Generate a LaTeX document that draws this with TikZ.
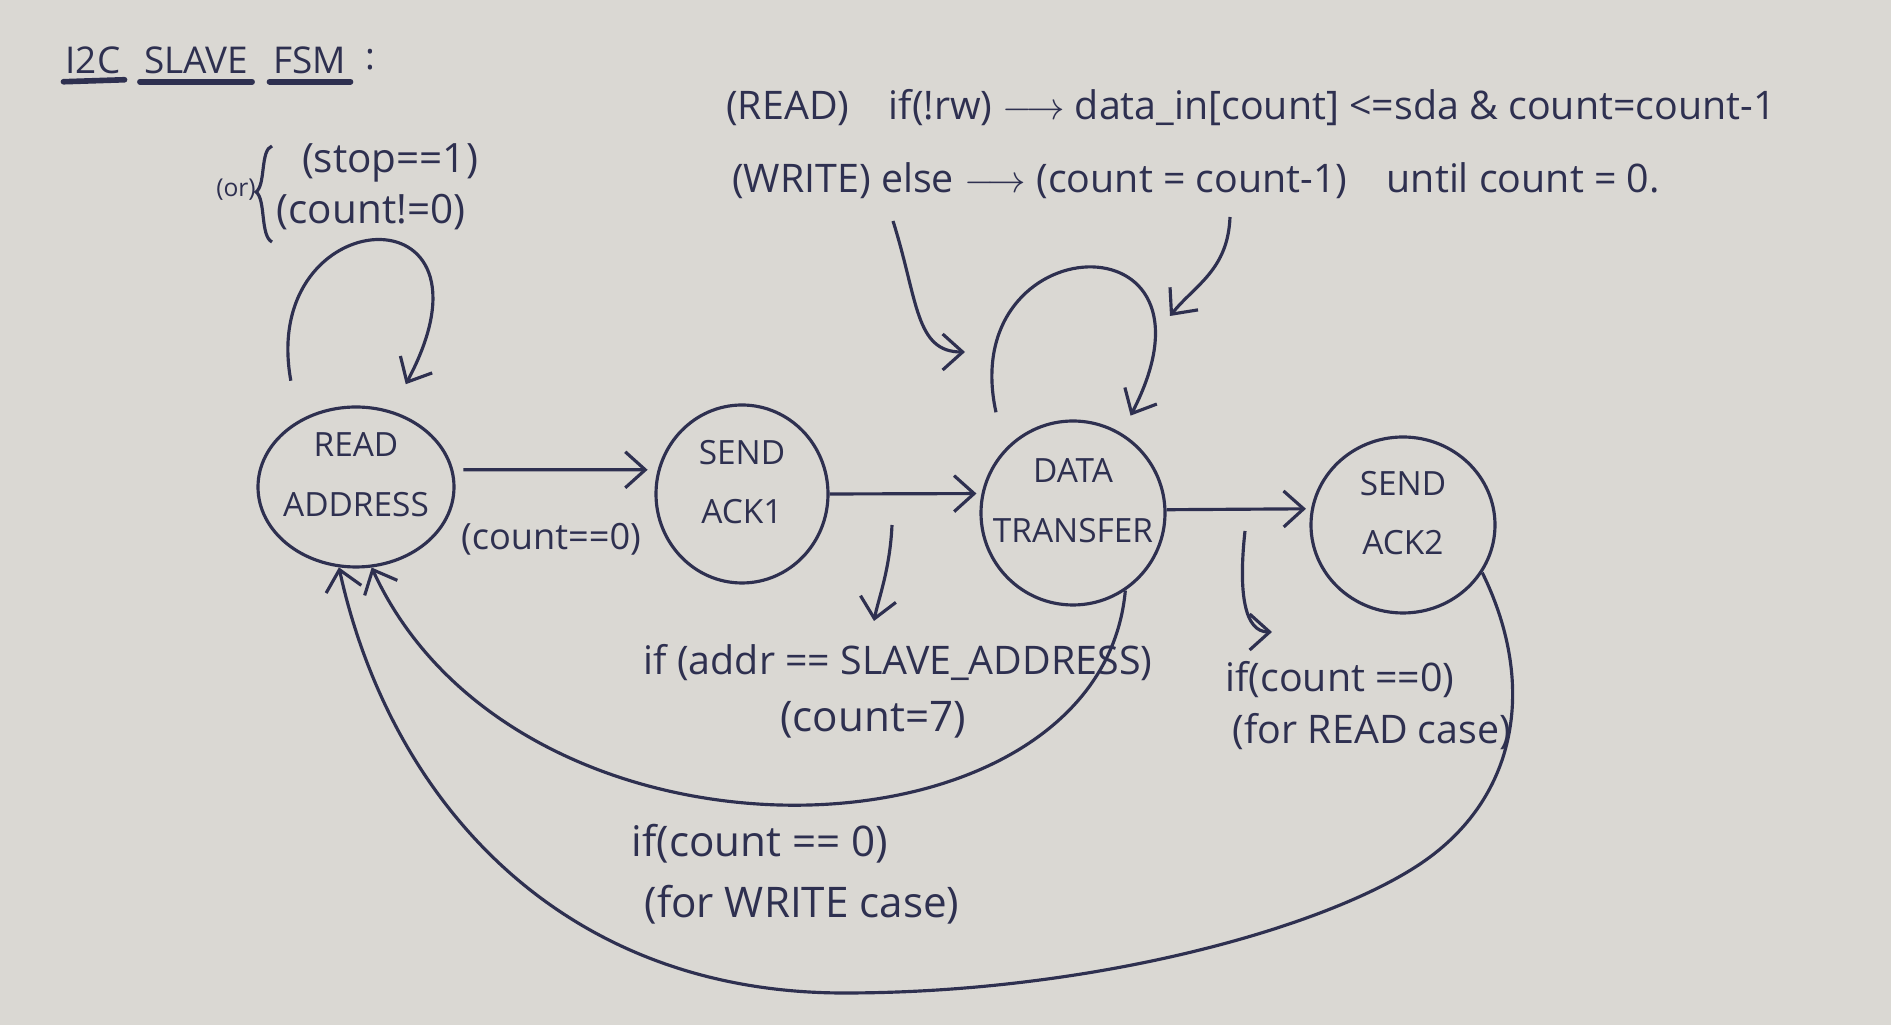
\documentclass[tikz,border=0pt]{standalone}
\usepackage{fontspec}
\setmainfont{Open Sans}
\usetikzlibrary{arrows.meta,shapes.geometric,calc}
\definecolor{ink}{HTML}{2E3050}
\definecolor{paper}{HTML}{DAD8D3}
\begin{document}
\begin{tikzpicture}[x=0.1mm,y=-0.1mm,
  inkline/.style={draw=ink, line width=0.9pt},
  arr/.style={inkline, -{Straight Barb[length=2mm,width=3.6mm]}},
  state/.style={ellipse, inkline, inner sep=0pt},
  stxt/.style={text=ink, align=center, inner sep=0pt, yshift=1.2mm, font=\fontsize{9.5}{17}\selectfont},
  lbl/.style={text=ink, inner sep=1pt, font=\fontsize{11.2}{13}\selectfont},
  ttl/.style={text=ink, inner sep=1pt, font=\fontsize{10.5}{12}\selectfont},
  uline/.style={draw=ink, line width=1.6pt, line cap=round},
]
\fill[paper] (0,0) rectangle (1891,1025);
\useasboundingbox (0,0) rectangle (1891,1025);

% title
\node[ttl] (t1) at (93,60) {I2C};
\node[ttl] (t2) at (196,60) {SLAVE};
\node[ttl] (t3) at (310,60) {FSM};
\node[ttl] (t4) at (370,60) {:};
\draw[uline] ($(t1.south west)+(2,4)$) -- ($(t1.south east)+(0,2)$);
\draw[uline] ($(t2.south west)+(0,4)$) -- ($(t2.south east)+(0,4)$);
\draw[uline] ($(t3.south west)+(0,4)$) -- ($(t3.south east)+(0,4)$);

% states
\node[state, minimum width=19.6mm, minimum height=16mm,
      label={[stxt]center:{READ\\ADDRESS}}] (ra) at (356,487) {};
\node[state, minimum width=17.2mm, minimum height=17.8mm,
      label={[stxt]center:{SEND\\ACK1}}] (sa1) at (742,494) {};
\node[state, minimum width=18.4mm, minimum height=18.4mm,
      label={[stxt]center:{DATA\\TRANSFER}}] (dt) at (1073,513) {};
\node[state, minimum width=18.4mm, minimum height=17.6mm,
      label={[stxt]center:{SEND\\ACK2}}] (sa2) at (1403,525) {};

% transitions between states
\draw[arr, shorten <=1mm, shorten >=1mm] (ra.10) -- (sa1.164);
\draw[arr, shorten >=0.5mm] (sa1.east) -- (dt.168);
\draw[arr, shorten >=0.5mm] (dt.2) -- (sa2.170);

% self loops
\draw[arr] ($(ra.119)+(-24,-32)$) .. controls (258,200) and (512,185) .. ($(ra.62)+(10,-28)$);
\draw[arr] ($(dt.126)+(-22,-25)$) .. controls (955,225) and (1236,212) .. ($(dt.58)+(8,-18)$);

% return arcs
\draw[arr] (dt.-56) .. controls (1100,870) and (520,890) .. (ra.-79);
\draw[arr] (sa2.-31) .. controls (1535,680) and (1520,790) .. (1430,857)
           .. controls (1340,924) and (1100,993) .. (844,993)
           .. controls (560,993) and (390,800) .. (ra.-102);

% loop labels
\node[text=ink, inner sep=0pt, font=\fontsize{7}{8}\selectfont] (orl) at (236,190) {(or)};
\draw[inkline] (272,146) .. controls (260,150) and (266,185) .. (256,192)
               .. controls (266,199) and (260,236) .. (272,242);
\node[lbl, font=\fontsize{11.5}{13}\selectfont] (stop) at (390,163) {(stop==1)};
\node[lbl, font=\fontsize{11.5}{13}\selectfont] (cnt) at (371,212) {(count!=0)};

% top annotations
\node[lbl, anchor=west] (rd) at (722,108) {(READ)\quad if(!rw) $\longrightarrow$ data\_in[count] <=sda \& count=count-1};
\node[lbl, anchor=west] (wr) at (728,181) {(WRITE) else $\longrightarrow$ (count = count-1)\quad until count = 0.};
\coordinate (w1s) at (893,221);
\coordinate (w1e) at (965,352);
\draw[arr] (w1s) .. controls (918,300) and (915,352) .. (w1e);
\coordinate (w2s) at (1230,217);
\coordinate (w2e) at (1170,316);
\draw[arr] (w2s) .. controls (1228,270) and (1195,285) .. (w2e);

% transition labels
\node[lbl, font=\fontsize{10.3}{12}\selectfont] (l1) at (551,539) {(count==0)};
\coordinate (c1s) at (892,525);
\coordinate (c1e) at (874,621);
\draw[arr] (c1s) .. controls (890,570) and (878,600) .. (c1e);
\node[lbl] (l2a) at (898,663) {if (addr == SLAVE\_ADDRESS)};
\node[lbl, font=\fontsize{12}{14}\selectfont] (l2b) at (873,720) {(count=7)};
\coordinate (c2s) at (1245,531);
\coordinate (c2e) at (1272,632);
\draw[arr] (c2s) .. controls (1238,595) and (1245,632) .. (c2e);
\node[lbl] (l3a) at (1340,680) {if(count ==0)};
\node[lbl] (l3b) at (1372,732) {(for READ case)};
\node[lbl, font=\fontsize{12}{14}\selectfont] (l4a) at (760,844) {if(count == 0)};
\node[lbl, font=\fontsize{12}{14}\selectfont] (l4b) at (802,905) {(for WRITE case)};
\end{tikzpicture}
\end{document}
